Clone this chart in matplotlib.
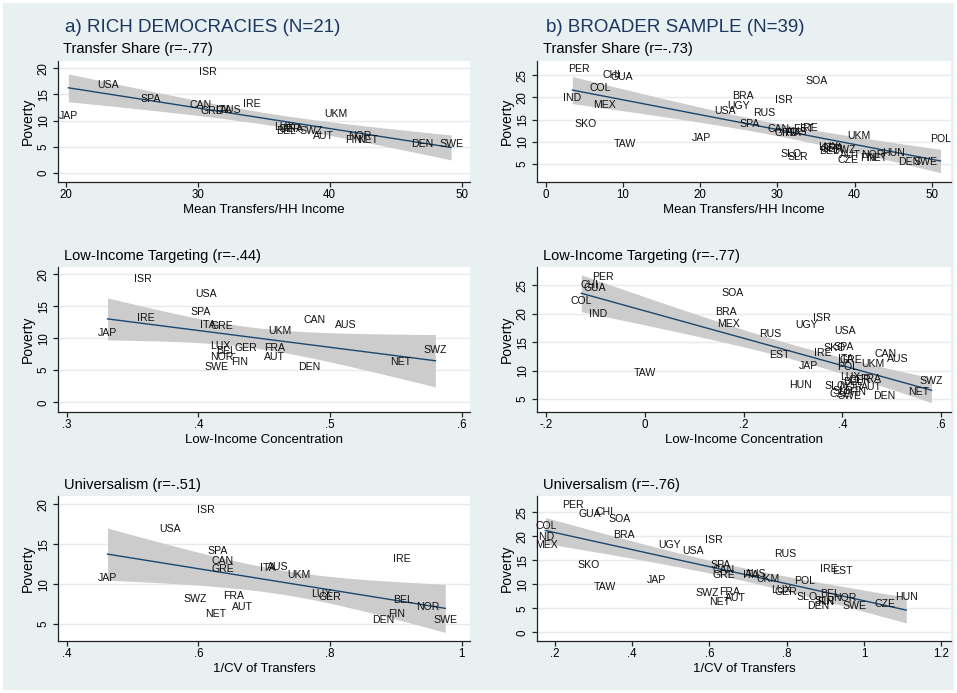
import numpy as np
import matplotlib
matplotlib.use('Agg')
import matplotlib.pyplot as plt
from matplotlib.patches import Rectangle

plt.rcParams['font.family'] = ['Liberation Sans', 'DejaVu Sans']

# kraje bogate (N=21)
kraje_bogate = ['AUS', 'AUT', 'BEL', 'CAN', 'DEN', 'FIN', 'FRA', 'GER', 'GRE', 'IRE', 'ISR',
                'ITA', 'JAP', 'LUX', 'NET', 'NOR', 'SPA', 'SWE', 'SWZ', 'UKM', 'USA']
bieda_bogate = [12.1, 7.1, 8.0, 12.9, 5.5, 6.3, 8.5, 8.4, 11.9, 13.1, 19.3,
                12.0, 10.8, 8.8, 6.3, 7.1, 14.1, 5.5, 8.1, 11.2, 16.9]
transfery_bogate = [32.5, 39.5, 36.7, 30.2, 47.0, 41.8, 37.2, 37.0, 31.1, 34.1, 30.8,
                    32.0, 20.2, 36.6, 42.9, 42.3, 26.4, 49.2, 38.6, 40.5, 23.2]
koncentracja_bogate = [.512, .458, .421, .488, .484, .431, .458, .436, .4175, .360, .358,
                       .407, .331, .4165, .554, .418, .402, .414, .580, .462, .406]
uniwersalizm_bogate = [.721, .667, .911, .636, .881, .901, .653, .799, .6375, .909, .612,
                       .706, .462, .787, .626, .949, .630, .975, .595, .752, .557]

# dodatkowe kraje w szerszej probie (N=39)
kraje_dod = ['BRA', 'CHI', 'COL', 'CZE', 'EST', 'GUA', 'HUN', 'IND', 'MEX', 'PER', 'POL',
             'RUS', 'SKO', 'SLO', 'SLR', 'SOA', 'TAW', 'UGY']
bieda_dod = [20.3, 25.0, 22.2, 5.8, 12.8, 24.6, 7.4, 19.9, 18.2, 26.5, 10.7,
             16.4, 14.0, 7.3, 6.5, 23.6, 9.5, 18.1]
transfery_dod = [25.5, 8.5, 7.0, 39.1, 33.4, 9.8, 45.0, 3.45, 7.6, 4.3, 51.1,
                 28.3, 5.2, 31.8, 32.6, 35.1, 10.3, 24.9]
koncentracja_dod = [.165, -.111, -.128, .395, .273, -.100, .316, -.093, .169, -.084, .411,
                    .255, .385, .385, .400, .177, 0.0, .328]
uniwersalizm_dod = [.379, .328, .177, 1.055, .943, .291, 1.109, .176, .179, .248, .846,
                    .796, .287, .853, .899, .369, .330, .496]

W, H = 957, 693
TLO = '#E8F0F2'
SIATKA = '#E4ECEF'
PASMO = '#CCCCCC'
LINIA = '#1A476F'

fig = plt.figure(figsize=(W / 100, H / 100), dpi=100, facecolor='white')
fig.patches.append(Rectangle((3 / W, 3 / H), 1 - 6 / W, 1 - 6 / H, transform=fig.transFigure,
                             facecolor=TLO, edgecolor='none', zorder=-10))


def px(x, y):
    return x / W, 1 - y / H


def rysuj(rect, x, y, etykiety, t_kryt, xlim, ylim, xticks, xtl, yticks, xlabel, podtytul, podtytul_xy):
    left, top, right, bottom = rect
    ax = fig.add_axes([left / W, 1 - bottom / H, (right - left) / W, (bottom - top) / H])
    ax.set_facecolor('white')
    x = np.array(x)
    y = np.array(y)
    n = len(x)
    b, a = np.polyfit(x, y, 1)
    s = np.sqrt(np.sum((y - (a + b * x)) ** 2) / (n - 2))
    xs = np.linspace(x.min(), x.max(), 100)
    ys = a + b * xs
    se = s * np.sqrt(1 / n + (xs - x.mean()) ** 2 / np.sum((x - x.mean()) ** 2))
    ax.fill_between(xs, ys - t_kryt * se, ys + t_kryt * se, color=PASMO, lw=0, zorder=1)
    ax.plot(xs, ys, color=LINIA, lw=1.0, zorder=2)
    for xi, yi, lab in zip(x, y, etykiety):
        ax.text(xi, yi, lab, ha='center', va='center', fontsize=7.6, color='#111111',
                zorder=3, clip_on=False)
    ax.set_xlim(*xlim)
    ax.set_ylim(*ylim)
    ax.set_xticks(xticks)
    ax.set_xticklabels(xtl)
    ax.set_yticks(yticks)
    ax.set_yticklabels([str(v) for v in yticks])
    ax.yaxis.grid(True, color=SIATKA, lw=1.0)
    ax.set_axisbelow(True)
    for sp in ['top', 'right']:
        ax.spines[sp].set_visible(False)
    for sp in ['left', 'bottom']:
        ax.spines[sp].set_color('#222222')
        ax.spines[sp].set_linewidth(0.9)
    ax.tick_params(axis='both', direction='out', length=3.6, width=0.9, color='#222222',
                   labelsize=8.3, pad=1.5)
    ax.tick_params(axis='y', labelrotation=90, pad=2.5)
    for t in ax.get_yticklabels():
        t.set_va('center')
    ax.set_xlabel(xlabel, fontsize=9.5, labelpad=2)
    ax.set_ylabel('Poverty', fontsize=10, labelpad=2)
    fig.text(*px(*podtytul_xy), podtytul, fontsize=10.5, va='center', ha='left')
    return ax


kraje_wszystkie = kraje_bogate + kraje_dod
bieda_wszystkie = bieda_bogate + bieda_dod

kolA = (58.3, 470.0)
kolB = (537.3, 950.7)
wiersze = [(61.0, 181.7), (266.5, 411.7), (496.0, 641.0)]

# wiersz 1 - Transfer Share
rysuj((kolA[0], wiersze[0][0], kolA[1], wiersze[0][1]), transfery_bogate, bieda_bogate, kraje_bogate,
      2.093, (19.44, 50.63), (-1.66, 21.4), [20, 30, 40, 50], ['20', '30', '40', '50'],
      [0, 5, 10, 15, 20], 'Mean Transfers/HH Income', 'Transfer Share (r=-.77)', (63, 48.7))
rysuj((kolB[0], wiersze[0][0], kolB[1], wiersze[0][1]), transfery_bogate + transfery_dod,
      bieda_wszystkie, kraje_wszystkie,
      2.026, (-1.09, 52.42), (1.0, 28.2), [0, 10, 20, 30, 40, 50], ['0', '10', '20', '30', '40', '50'],
      [5, 10, 15, 20, 25], 'Mean Transfers/HH Income', 'Transfer Share (r=-.73)', (543, 48.7))

# wiersz 2 - Low-Income Targeting
rysuj((kolA[0], wiersze[1][0], kolA[1], wiersze[1][1]), koncentracja_bogate, bieda_bogate, kraje_bogate,
      2.093, (0.2936, 0.6063), (-1.47, 21.19), [.3, .4, .5, .6], ['.3', '.4', '.5', '.6'],
      [0, 5, 10, 15, 20], 'Low-Income Concentration', 'Low-Income Targeting (r=-.44)', (64, 256))
rysuj((kolB[0], wiersze[1][0], kolB[1], wiersze[1][1]), koncentracja_bogate + koncentracja_dod,
      bieda_wszystkie, kraje_wszystkie,
      2.026, (-0.217, 0.619), (2.77, 28.33), [-.2, 0, .2, .4, .6], ['-.2', '0', '.2', '.4', '.6'],
      [5, 10, 15, 20, 25], 'Low-Income Concentration', 'Low-Income Targeting (r=-.77)', (543, 256))

# wiersz 3 - Universalism
rysuj((kolA[0], wiersze[2][0], kolA[1], wiersze[2][1]), uniwersalizm_bogate, bieda_bogate, kraje_bogate,
      2.093, (0.3872, 1.0126), (2.87, 21.04), [.4, .6, .8, 1], ['.4', '.6', '.8', '1'],
      [5, 10, 15, 20], '1/CV of Transfers', 'Universalism (r=-.51)', (64, 485))
rysuj((kolB[0], wiersze[2][0], kolB[1], wiersze[2][1]), uniwersalizm_bogate + uniwersalizm_dod,
      bieda_wszystkie, kraje_wszystkie,
      2.026, (0.155, 1.224), (-1.81, 28.4), [.2, .4, .6, .8, 1, 1.2], ['.2', '.4', '.6', '.8', '1', '1.2'],
      [0, 5, 10, 15, 20, 25], '1/CV of Transfers', 'Universalism (r=-.76)', (543, 485))

fig.text(*px(65, 27), 'a) RICH DEMOCRACIES (N=21)', fontsize=13.5, color='#1E3560', va='center', ha='left')
fig.text(*px(546, 27), 'b) BROADER SAMPLE (N=39)', fontsize=13.5, color='#1E3560', va='center', ha='left')

fig.savefig('out.png', dpi=100, facecolor=fig.get_facecolor())
